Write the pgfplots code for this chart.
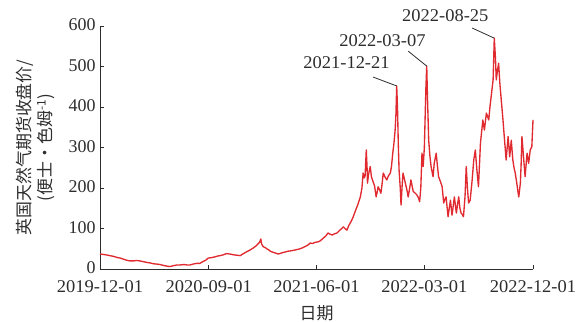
\documentclass[border=0pt]{standalone}
\usepackage{pgfplots}
\pgfplotsset{compat=1.18}
\usepackage{fontspec}
\setmainfont{Liberation Serif}
\newfontfamily\cjk{Noto Sans CJK SC}
\definecolor{linered}{RGB}{224,42,48}
\definecolor{axgray}{RGB}{45,45,45}
\begin{document}
\begin{tikzpicture}
\path[use as bounding box] (-100bp,-53bp) rectangle (485bp,269bp);
\begin{axis}[
  at={(0,0)}, anchor=south west,
  scale only axis, width=433bp, height=243bp,
  xmin=0, xmax=1096, ymin=0, ymax=600,
  axis lines=left, axis line style={-, axgray, line width=0.8pt},
  tick align=inside, major tick length=4bp,
  tick style={axgray, line width=0.8pt},
  xtick={0,275,548,821,1096},
  xticklabels={2019-12-01,2020-09-01,2021-06-01,2022-03-01,2022-12-01},
  ytick={0,100,200,300,400,500,600},
  /pgf/number format/assume math mode=true,
  ticklabel style={font=\fontsize{18}{21}\selectfont, text=axgray},
  xticklabel style={yshift=-8bp, xscale=1.03},
  yticklabel style={xshift=-1bp, yshift=1bp},
  xlabel={\cjk 日期},
  ylabel={\cjk 英国天然气期货收盘价/\\\cjk (便士·色姆\textsuperscript{-1})},
  label style={font=\fontsize{17}{21}\selectfont, text=axgray},
  y label style={at={(axis description cs:-0.148,0.5)}, anchor=center, align=center},
  x label style={at={(axis description cs:0.5,-0.181)}, anchor=center},
  clip=false,
]
\addplot[linered, line width=1.35pt, line join=round] coordinates {
(0,37) (8,36) (15,35) (25,33) (35,31) (45,28) (51,27) (60,24) (70,21) (76,20) (85,20) (92,21) (101,20) (110,18) (120,16) (127,15) (135,13) (145,12) (152,11) (160,9) (170,7) (177,6) (185,8) (195,10) (203,10) (212,11) (220,10) (228,10) (235,12) (245,14) (253,14) (260,18) (268,22) (274,27) (282,28) (291,30) (298,32) (304,33) (312,35) (320,38) (329,37) (338,35) (347,34) (355,33) (363,38) (372,43) (380,47) (388,52) (395,57) (400,62) (404,66) (407,74) (409,62) (413,55) (418,53) (422,50) (426,48) (431,44) (436,42) (442,40) (451,37) (458,39) (464,41) (469,42) (476,44) (484,45) (494,47) (503,49) (512,52) (520,56) (526,59) (532,64) (538,63) (545,66) (552,67) (558,70) (565,76) (572,82) (577,89) (582,86) (588,84) (594,87) (600,89) (606,95) (612,100) (616,104) (620,100) (625,96) (630,108) (636,118) (641,129) (647,145) (653,160) (659,178) (663,200) (666,237) (669,225) (671,230) (674,294) (676,250) (677,212) (680,235) (684,253) (687,228) (691,216) (695,205) (699,178) (702,192) (704,203) (708,195) (711,187) (714,210) (717,237) (721,228) (726,220) (730,230) (735,237) (738,255) (741,286) (744,310) (747,343) (749,380) (751,452) (753,400) (755,310) (757,244) (760,200) (762,158) (765,210) (767,237) (771,220) (775,203) (778,190) (780,178) (784,200) (787,220) (790,205) (793,191) (797,188) (802,183) (806,176) (809,166) (812,200) (815,286) (818,253) (821,300) (823,376) (825,450) (827,501) (829,420) (832,318) (835,280) (838,253) (843,228) (846,261) (851,286) (854,255) (857,228) (862,215) (866,203) (870,163) (873,172) (876,178) (881,129) (884,150) (887,170) (891,133) (894,155) (897,178) (902,138) (905,160) (908,178) (911,150) (914,138) (917,135) (920,129) (924,180) (927,253) (930,200) (933,163) (937,170) (942,220) (946,269) (950,294) (954,244) (958,203) (963,311) (969,368) (973,343) (978,385) (984,368) (987,400) (990,425) (995,467) (998,570) (1001,520) (1003,467) (1006,490) (1009,508) (1012,460) (1015,425) (1020,368) (1024,318) (1028,269) (1033,327) (1037,277) (1041,318) (1045,269) (1048,250) (1051,237) (1055,212) (1058,190) (1060,178) (1064,212) (1066,260) (1068,327) (1072,277) (1076,228) (1081,286) (1085,261) (1089,294) (1093,302) (1096,368)
};
\draw[axgray, line width=0.8pt] (axis cs:691,474) -- (axis cs:751,452);
\draw[axgray, line width=0.8pt] (axis cs:780,538) -- (axis cs:827,501);
\draw[axgray, line width=0.8pt] (axis cs:942,595) -- (axis cs:998,570);
\node[font=\fontsize{18}{21}\selectfont, text=axgray, xscale=1.03] at (axis cs:624,509) {2021-12-21};
\node[font=\fontsize{18}{21}\selectfont, text=axgray, xscale=1.03] at (axis cs:715,565) {2022-03-07};
\node[font=\fontsize{18}{21}\selectfont, text=axgray, xscale=1.03] at (axis cs:874,625) {2022-08-25};
\end{axis}
\end{tikzpicture}
\end{document}
